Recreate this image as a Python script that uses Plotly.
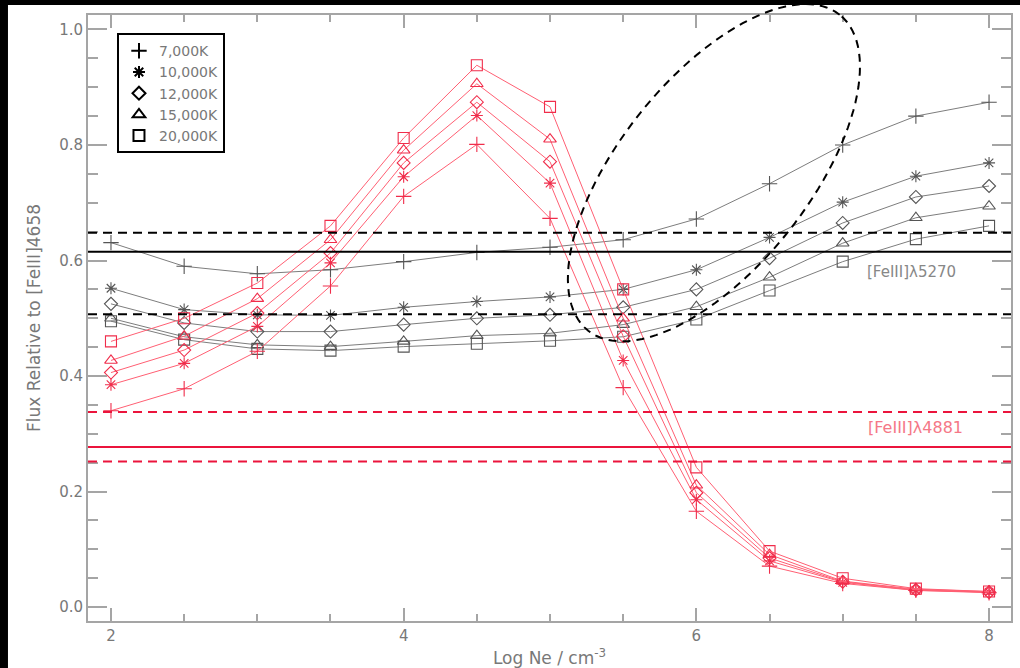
import numpy as np
import plotly.graph_objects as go

# Electron density grid (log Ne / cm^-3)
log_ne = [2.0, 2.5, 3.0, 3.5, 4.0, 4.5, 5.0, 5.5, 6.0, 6.5, 7.0, 7.5, 8.0]

temps = ["7,000K", "10,000K", "12,000K", "15,000K", "20,000K"]

# [FeIII] 5270 / 4658 ratio for each temperature
ratio_5270 = {
    "7,000K":  [0.631, 0.590, 0.577, 0.584, 0.598, 0.614, 0.623, 0.636, 0.672, 0.733, 0.800, 0.850, 0.874],
    "10,000K": [0.552, 0.515, 0.506, 0.505, 0.519, 0.529, 0.537, 0.550, 0.584, 0.640, 0.701, 0.746, 0.769],
    "12,000K": [0.525, 0.492, 0.477, 0.477, 0.489, 0.500, 0.506, 0.519, 0.550, 0.604, 0.665, 0.710, 0.729],
    "15,000K": [0.500, 0.468, 0.454, 0.451, 0.460, 0.470, 0.474, 0.489, 0.520, 0.571, 0.630, 0.674, 0.694],
    "20,000K": [0.495, 0.463, 0.447, 0.444, 0.451, 0.456, 0.461, 0.468, 0.498, 0.548, 0.598, 0.637, 0.660],
}

# [FeIII] 4881 / 4658 ratio for each temperature
ratio_4881 = {
    "7,000K":  [0.340, 0.378, 0.443, 0.556, 0.711, 0.801, 0.673, 0.380, 0.166, 0.071, 0.041, 0.029, 0.025],
    "10,000K": [0.385, 0.422, 0.486, 0.596, 0.745, 0.851, 0.734, 0.427, 0.186, 0.080, 0.043, 0.029, 0.026],
    "12,000K": [0.406, 0.445, 0.509, 0.613, 0.769, 0.874, 0.771, 0.469, 0.198, 0.085, 0.044, 0.030, 0.026],
    "15,000K": [0.427, 0.469, 0.534, 0.636, 0.791, 0.906, 0.810, 0.500, 0.211, 0.091, 0.045, 0.031, 0.027],
    "20,000K": [0.460, 0.500, 0.561, 0.660, 0.812, 0.938, 0.866, 0.550, 0.242, 0.097, 0.050, 0.032, 0.027],
}

symbols = {
    "7,000K": "cross-thin-open",
    "10,000K": "asterisk-open",
    "12,000K": "diamond-open",
    "15,000K": "triangle-up-open",
    "20,000K": "square-open",
}
sizes = {"7,000K": 11, "10,000K": 10, "12,000K": 10, "15,000K": 11, "20,000K": 11}

# Observed ratios: (central value, lower bound, upper bound)
obs_5270 = [0.615, 0.507, 0.648]
obs_4881 = [0.277, 0.252, 0.338]

x_range = [1.843, 8.15]
y_range = [-0.024, 1.025]

GRAY_LINE = "rgb(125,125,125)"
GRAY_MARK = "rgb(85,85,85)"
RED_LINE = "rgb(255,95,115)"
RED_MARK = "rgb(240,45,75)"
AXIS = "rgb(165,165,165)"
TEXT = "rgb(120,120,120)"
FONT = "DejaVu Sans"

fig = go.Figure()

for t in temps:
    fig.add_trace(go.Scatter(
        x=log_ne, y=ratio_5270[t], mode="lines+markers", showlegend=False,
        line=dict(color=GRAY_LINE, width=1),
        marker=dict(symbol=symbols[t], size=sizes[t], color=GRAY_MARK,
                    line=dict(color=GRAY_MARK, width=1.1)),
    ))
for t in temps:
    fig.add_trace(go.Scatter(
        x=log_ne, y=ratio_4881[t], mode="lines+markers", showlegend=False,
        line=dict(color=RED_LINE, width=1),
        marker=dict(symbol=symbols[t], size=sizes[t], color=RED_MARK,
                    line=dict(color=RED_MARK, width=1.1)),
    ))

# Legend entries with black symbols
for t in temps:
    fig.add_trace(go.Scatter(
        x=[None], y=[None], mode="markers", name=t,
        marker=dict(symbol=symbols[t], size=sizes[t], color="black",
                    line=dict(color="black", width=2)),
    ))

# Horizontal observed-ratio lines
shapes = []
for vals, col in ((obs_5270, "black"), (obs_4881, "rgb(235,20,60)")):
    c, lo, hi = vals
    shapes.append(dict(type="line", xref="paper", x0=0, x1=1, yref="y", y0=c, y1=c,
                       line=dict(color=col, width=2)))
    for v in (lo, hi):
        shapes.append(dict(type="line", xref="paper", x0=0, x1=1, yref="y", y0=v, y1=v,
                           line=dict(color=col, width=2, dash="9px,6px")))

# Dashed tilted ellipse highlighting the crossing region
ell_center = (6.12, 0.752)
ell_major = (0.859, 0.2735)
ell_minor = (-0.508, 0.102)
tt = np.linspace(0, 2 * np.pi, 121)
ex = ell_center[0] + np.cos(tt) * ell_major[0] + np.sin(tt) * ell_minor[0]
ey = ell_center[1] + np.cos(tt) * ell_major[1] + np.sin(tt) * ell_minor[1]
px = (ex - x_range[0]) / (x_range[1] - x_range[0])
py = (ey - y_range[0]) / (y_range[1] - y_range[0])
path = "M " + " L ".join(f"{a:.5f},{b:.5f}" for a, b in zip(px, py)) + " Z"
shapes.append(dict(type="path", xref="paper", yref="paper", path=path,
                   line=dict(color="black", width=2, dash="8px,6px"), layer="above"))

# Dark frame strips along the top and left edges of the page
shapes.append(dict(type="rect", xref="paper", yref="paper", x0=-0.1, x1=1.02,
                   y0=1.0165, y1=1.04, line_width=0, fillcolor="black", layer="below"))
shapes.append(dict(type="rect", xref="paper", yref="paper", x0=-0.1, x1=-0.0867,
                   y0=-0.1, y1=1.04, line_width=0, fillcolor="black", layer="below"))

annotations = [
    dict(x=7.467, y=0.580, xref="x", yref="y", text="[FeIII]λ5270", showarrow=False,
         font=dict(family=FONT, size=15, color="rgb(135,135,135)")),
    dict(x=7.50, y=0.311, xref="x", yref="y", text="[FeIII]λ4881", showarrow=False,
         font=dict(family=FONT, size=16, color="rgb(245,120,135)")),
]

fig.update_layout(
    width=1020, height=668,
    margin=dict(l=88, r=9, t=15, b=47, pad=0),
    paper_bgcolor="white", plot_bgcolor="white",
    font=dict(family=FONT, size=15, color=TEXT),
    shapes=shapes, annotations=annotations,
    legend=dict(x=0.0314, y=0.970, xanchor="left", yanchor="top",
                bordercolor="black", borderwidth=2, bgcolor="white",
                font=dict(family=FONT, size=14, color=TEXT),
                tracegroupgap=0, itemwidth=30),
)

fig.update_xaxes(
    range=x_range, showgrid=False, zeroline=False, automargin=False,
    showline=True, linecolor=AXIS, linewidth=2, mirror="allticks",
    tickvals=[2, 4, 6, 8], ticktext=["2", "4", "6", "8"],
    ticks="inside", ticklen=13, tickwidth=2, tickcolor=AXIS,
    minor=dict(dtick=0.5, tick0=2, ticks="inside", ticklen=7, tickwidth=2, tickcolor=AXIS),
    tickfont=dict(family=FONT, size=15, color=TEXT),
    title=dict(text="Log Ne / cm<sup>-3</sup>", standoff=9,
               font=dict(family=FONT, size=17, color=TEXT)),
)
fig.update_yaxes(
    range=y_range, showgrid=False, zeroline=False, automargin=False,
    showline=True, linecolor=AXIS, linewidth=2, mirror="allticks",
    tickvals=[0.0, 0.2, 0.4, 0.6, 0.8, 1.0], tickformat=".1f",
    ticks="inside", ticklen=19, tickwidth=2, tickcolor=AXIS,
    minor=dict(dtick=0.05, tick0=0, ticks="inside", ticklen=10, tickwidth=2, tickcolor=AXIS),
    tickfont=dict(family=FONT, size=15, color=TEXT),
    title=dict(text="Flux Relative to [FeIII]4658", standoff=14,
               font=dict(family=FONT, size=17, color=TEXT)),
)

fig.write_html("out.html")
